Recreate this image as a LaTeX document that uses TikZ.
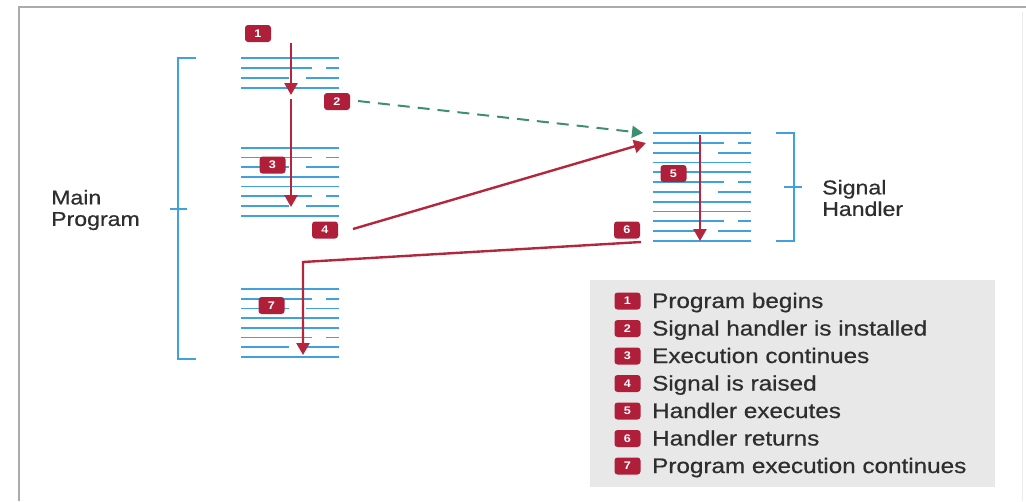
\documentclass[tikz,border=0pt]{standalone}
\usepackage{fontspec}
\setmainfont{Liberation Sans}
\newfontfamily\lab[FakeStretch=1.15]{Liberation Sans}
\newfontfamily\labtext[FakeStretch=1.155,FakeBold=0.6]{Liberation Sans}
\usetikzlibrary{arrows.meta}
\definecolor{codeblue}{HTML}{3FA2DC}
\definecolor{flowred}{HTML}{B3263C}
\definecolor{badgered}{HTML}{B01F3A}
\definecolor{flowgreen}{HTML}{3D8F73}
\definecolor{legendgrey}{HTML}{E8E8E8}
\definecolor{textgrey}{HTML}{2E2E2E}
\definecolor{framegrey}{HTML}{ABABAB}
\tikzset{
  codeline/.style={draw=codeblue, line width=1.8pt},
  bracket/.style={draw=codeblue, line width=1.8pt},
  flow/.style={draw=flowred, line width=2.4pt, -{Triangle[width=13pt,length=12pt]}},
  install/.style={draw=flowgreen, line width=2pt, dash pattern=on 12pt off 8pt, -{Triangle[width=12pt,length=11pt]}},
  badge/.style={fill=badgered, rounded corners=3pt, minimum width=26pt, minimum height=17pt, inner sep=0pt, text=white, font=\lab\bfseries\fontsize{11}{11}\selectfont},
  lbl/.style={text=textgrey, font=\labtext\fontsize{20}{21.5}\selectfont, align=left, inner sep=0pt},
  legtext/.style={text=textgrey, font=\labtext\fontsize{21}{21}\selectfont, inner sep=0pt, anchor=base west}
}
\newcommand\drawblock[4]{%
  \foreach \i in {1,...,#3}{%
    \pgfmathsetmacro\yy{#2+#4*(\i-1)}%
    \pgfmathtruncatemacro\mm{mod(\i-1,4)}%
    \ifcase\mm
      \draw[codeline] (#1,\yy) -- ++(98,0);
    \or
      \draw[codeline] (#1,\yy) -- ++(71,0) (#1+85,\yy) -- ++(13,0);
    \or
      \draw[codeline] (#1,\yy) -- ++(48,0) (#1+65,\yy) -- ++(33,0);
    \else
      \draw[codeline] (#1,\yy) -- ++(98,0);
    \fi
  }%
}
\begin{document}
\begin{tikzpicture}[x=1pt,y=-1pt]
\useasboundingbox (0,0) rectangle (1026,501);
% frame
\draw[framegrey, line width=1.5pt] (19,501) -- (19,7) -- (1026,7);
\draw[black!8, line width=1pt] (1022,12) -- (1022,501);
% code blocks
\drawblock{241}{57.7}{4}{10}
\drawblock{241}{147.7}{8}{9.7}
\drawblock{241}{289}{8}{9.7}
\drawblock{652.5}{133}{12}{9.8}
% brackets
\draw[bracket] (196,58) -- (178,58) -- (178,359) -- (196,359);
\draw[bracket] (170,209) -- (187,209);
\draw[bracket] (776,133) -- (794,133) -- (794,241) -- (776,241);
\draw[bracket] (784,187) -- (802,187);
% labels
\node[lbl, anchor=west] (mainlbl) at (51,210) {Main\\Program};
\node[lbl, anchor=west] (siglbl) at (822,198) {Signal\\Handler};
% arrow end points
\coordinate (a1s) at (291,43);
\coordinate (a1e) at (291,95);
\coordinate (a3s) at (291,99);
\coordinate (a3e) at (291,207);
\coordinate (a2s) at (358,101);
\coordinate (a2e) at (643,133);
\coordinate (a4s) at (353,229);
\coordinate (a4e) at (646,143);
\coordinate (a5s) at (700,135);
\coordinate (a5e) at (700,241);
\coordinate (a6s) at (641,242);
\coordinate (a6c) at (303,262);
\coordinate (a6e) at (303,355);
% arrows
\draw[flow] (a1s) -- (a1e);
\draw[flow] (a3s) -- (a3e);
\draw[install] (a2s) -- (a2e);
\draw[flow] (a4s) -- (a4e);
\draw[flow] (a5s) -- (a5e);
\draw[flow] (a6s) -- (a6c) -- (a6e);
% badges
\node[badge] (b1) at (258,33.5) {1};
\node[badge] (b2) at (337,101.5) {2};
\node[badge] (b3) at (272.5,165) {3};
\node[badge] (b4) at (325,230) {4};
\node[badge] (b5) at (673.5,173.5) {5};
\node[badge] (b6) at (627,230) {6};
\node[badge] (b7) at (271.5,305.5) {7};
% legend
\fill[legendgrey] (590,280) rectangle (995,487);
\foreach \n/\t [count=\k from 0] in {1/Program begins,2/Signal handler is installed,3/Execution continues,4/Signal is raised,5/Handler executes,6/Handler returns,7/Program execution continues}{
  \node[badge] (l\n) at (627.5,{301+27.5*\k}) {\n};
  \node[legtext] (t\n) at (652,{308+27.5*\k}) {\t};
}
\end{tikzpicture}
\end{document}
